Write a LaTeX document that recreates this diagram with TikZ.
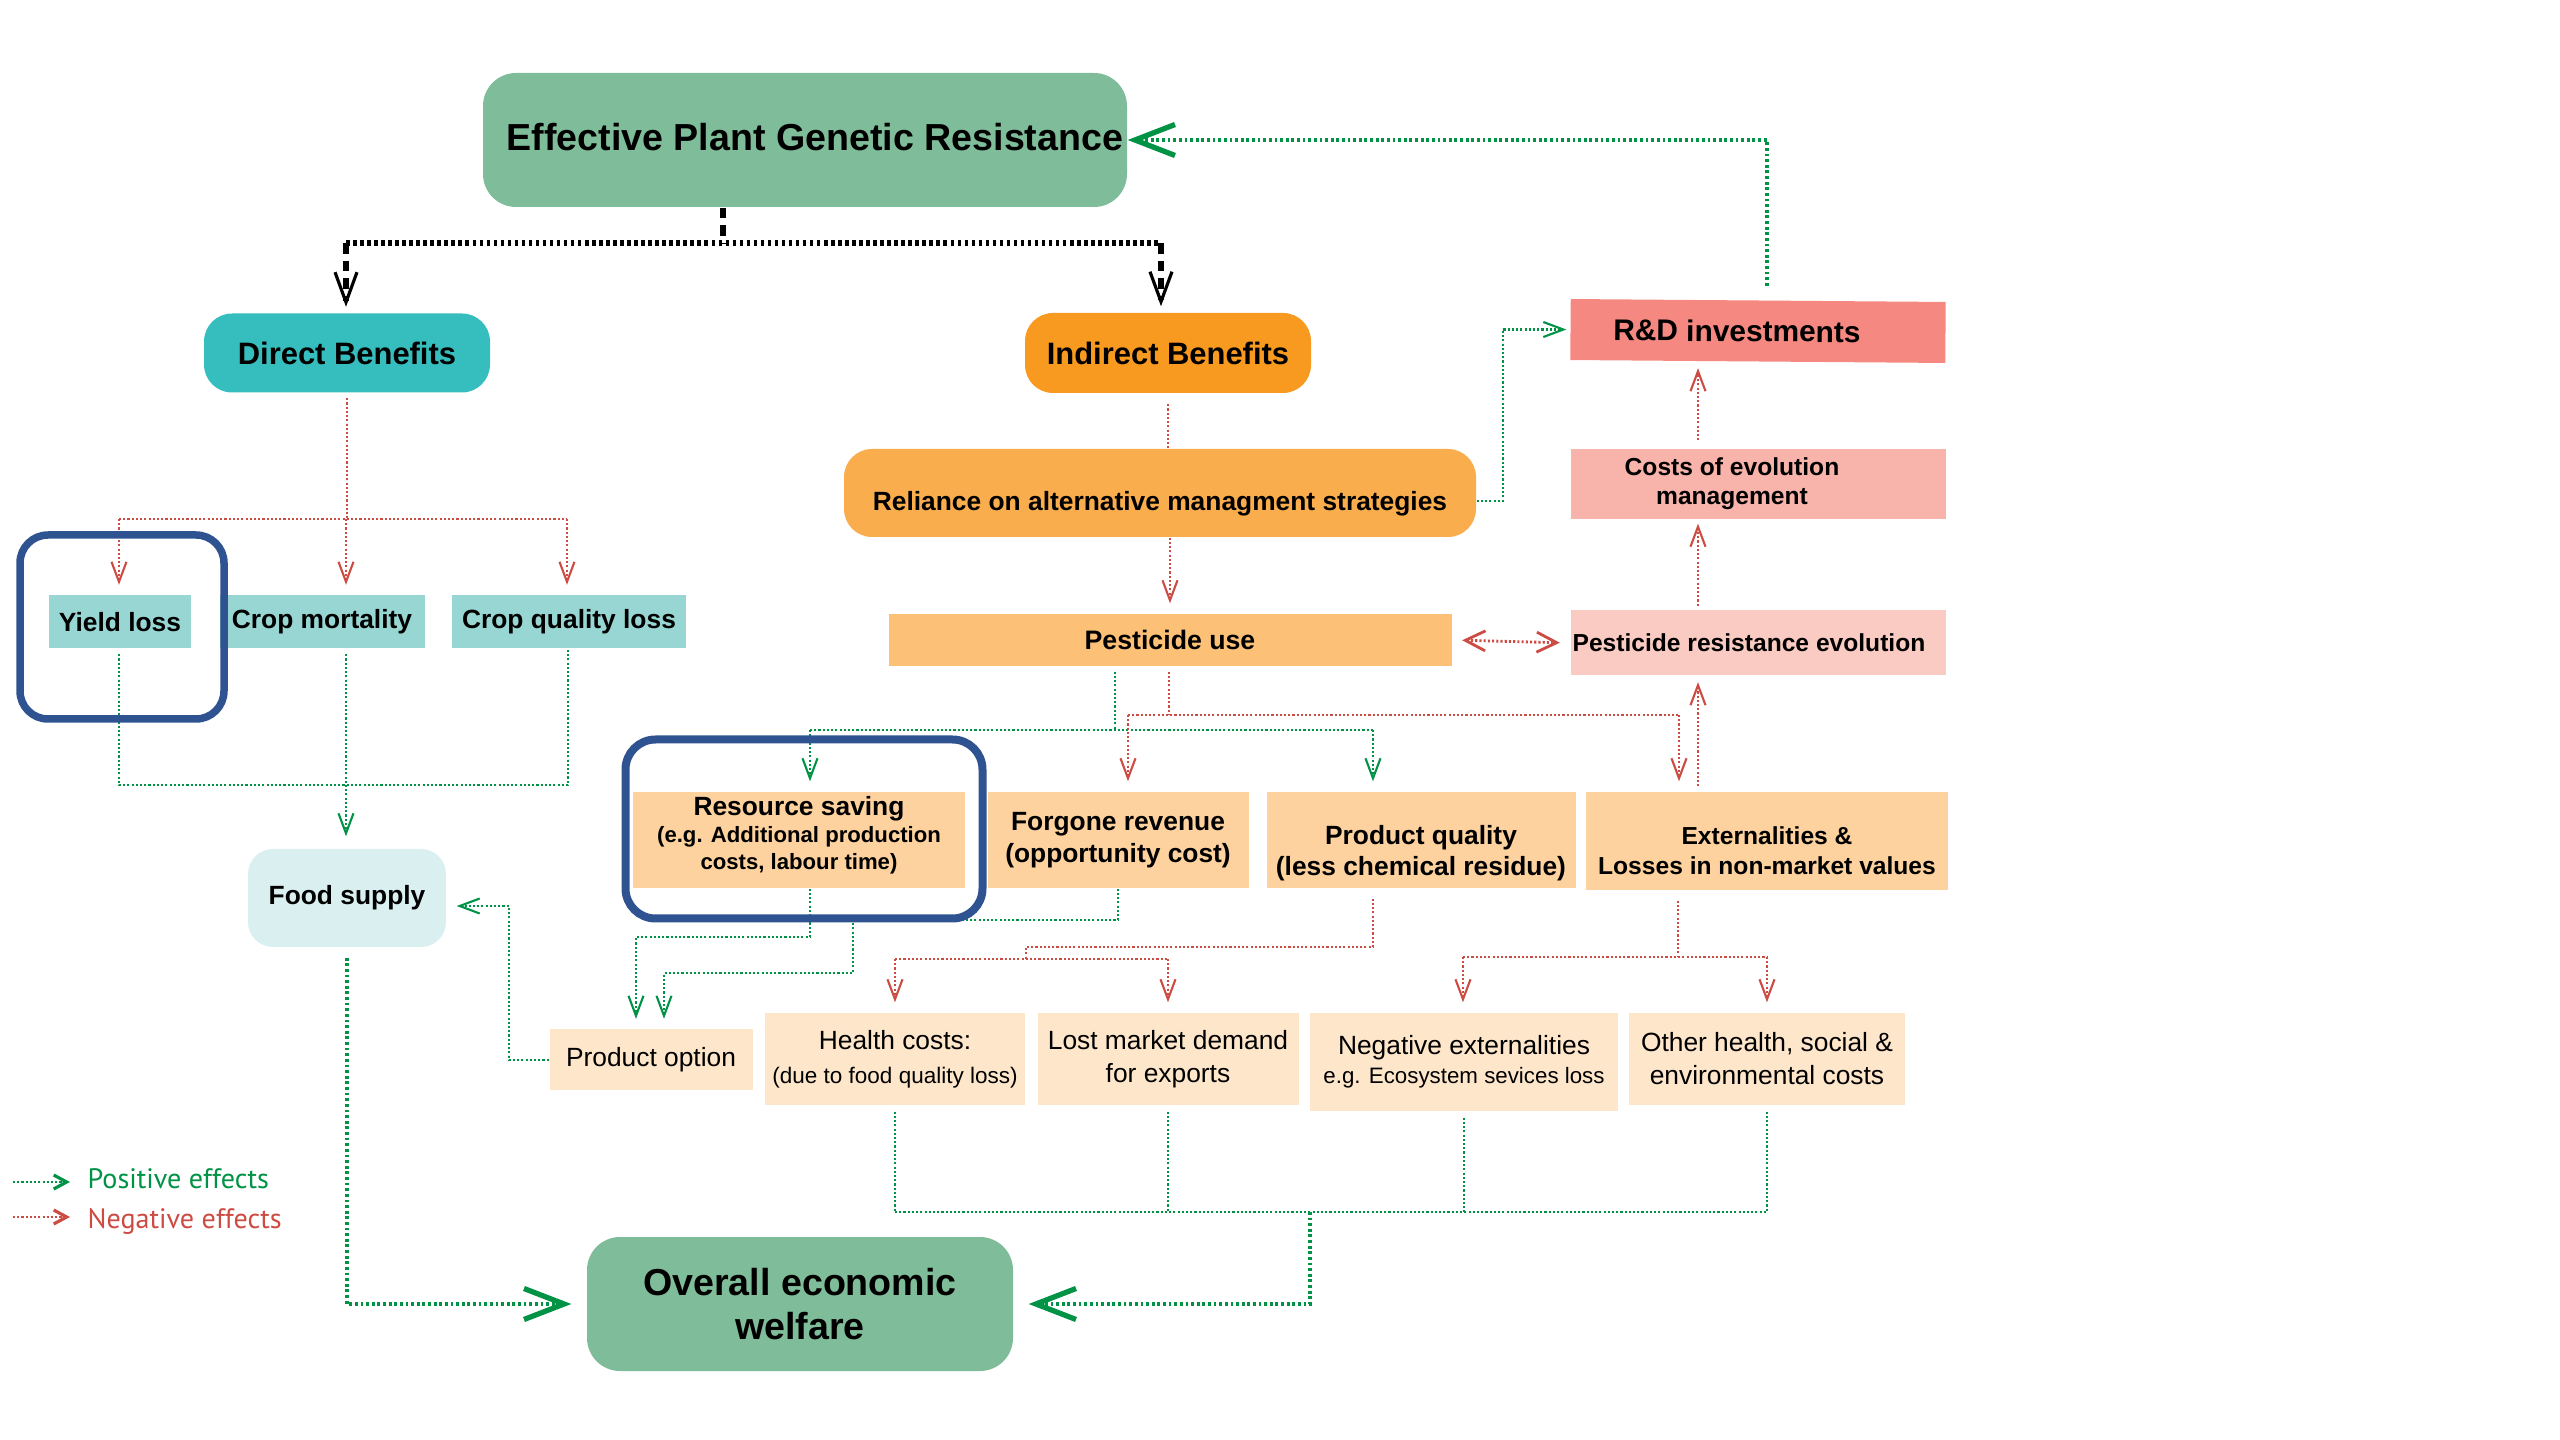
\documentclass[tikz,border=0pt]{standalone}
\usepackage{fontspec}
\setmainfont{Liberation Sans}
\newfontfamily\legendfont{PT Sans}
\usetikzlibrary{arrows.meta}

% palette
\definecolor{posgreen}{RGB}{0,146,69}
\definecolor{negred}{RGB}{204,76,68}
\definecolor{cMain}{RGB}{127,189,154}
\definecolor{cTeal}{RGB}{53,190,189}
\definecolor{cOrange}{RGB}{248,154,31}
\definecolor{cRD}{RGB}{245,136,128}
\definecolor{cCost}{RGB}{248,180,171}
\definecolor{cResist}{RGB}{250,203,195}
\definecolor{cRely}{RGB}{250,173,76}
\definecolor{cPest}{RGB}{252,193,119}
\definecolor{cLoss}{RGB}{151,214,211}
\definecolor{cFood}{RGB}{218,239,239}
\definecolor{cMid}{RGB}{253,210,159}
\definecolor{cLow}{RGB}{254,230,203}
\definecolor{cRing}{RGB}{47,83,144}

\begin{document}
\begin{tikzpicture}[x=0.1mm,y=-0.1mm,
  box/.style={inner sep=0pt, align=center, text=black},
  ttl/.style={font=\fontsize{10.7}{12.5}\selectfont\bfseries},
  hdr/.style={font=\fontsize{8.8}{10.5}\selectfont\bfseries},
  lbl/.style={font=\fontsize{7.5}{9}\selectfont\bfseries},
  lbls/.style={font=\fontsize{7}{8.4}\selectfont\bfseries},
  txt/.style={font=\fontsize{7.5}{9.4}\selectfont},
  ring/.style={draw=cRing, line width=0.75mm, rounded corners=2.8mm, inner sep=0pt},
  poslink/.style={draw=posgreen, line width=0.6pt, dash pattern=on 0.6pt off 0.6pt},
  neglink/.style={draw=negred, line width=0.6pt, dash pattern=on 0.6pt off 0.6pt},
  posthick/.style={draw=posgreen, line width=1.15pt, dash pattern=on 0.8pt off 0.8pt},
  blkh/.style={draw=black, line width=1.7pt, dash pattern=on 1pt off 1pt},
  blkv/.style={draw=black, line width=1.7pt, dash pattern=on 3pt off 2pt},
  tipsm/.style={-{Straight Barb[length=2mm,width=1.5mm]}},
  tipbk/.style={-{Straight Barb[length=3mm,width=2.2mm,line width=0.9pt]}},
  tipbig/.style={-{Straight Barb[length=4mm,width=3.1mm,line width=1.5pt]}},
  tiplg/.style={-{Straight Barb[length=1.3mm,width=1.4mm,line width=0.9pt]}},
]
\useasboundingbox (0,0) rectangle (2560,1440);

% ---------- top level ----------
\node[box, fill=cMain, minimum width=64.4mm, minimum height=13.4mm, rounded corners=3.3mm,
  label={[name=epgrtext, ttl, yshift=0.3mm]center:\hspace*{2mm}Effective Plant Genetic Resistance}]
  (epgr) at (805,140) {};
\node[box, hdr, fill=cTeal, minimum width=28.6mm, minimum height=7.9mm, rounded corners=2.8mm]
  (direct) at (347,353) {Direct Benefits};
\node[box, hdr, fill=cOrange, minimum width=28.6mm, minimum height=8mm, rounded corners=2.8mm]
  (indirect) at (1168,353) {Indirect Benefits};

% ---------- indirect branch ----------
\node[box, font=\fontsize{8.5}{10}\selectfont\bfseries, fill=cRD, minimum width=37.5mm, minimum height=6.1mm, rotate=-0.45]
  (rd) at (1758,331) {R\&D investments\hspace*{4.2mm}};
\node[box, fill=cRely, minimum width=63.2mm, minimum height=8.8mm, rounded corners=2.8mm,
  label={[name=reliancetext, lbl, yshift=-1.1mm]center:Reliance on alternative managment strategies}]
  (reliance) at (1160,493) {};
\node[box, font=\fontsize{7}{8.25}\selectfont\bfseries, fill=cCost, minimum width=37.5mm, minimum height=7mm]
  (costs) at (1758,484) {Costs of evolution\hspace*{5.2mm}\\management\hspace*{5.2mm}};
\node[box, font=\fontsize{7.6}{9}\selectfont\bfseries, fill=cPest, minimum width=56.3mm, minimum height=5.2mm]
  (pest) at (1170,640) {Pesticide use};
\node[box, lbls, fill=cResist, minimum width=37.5mm, minimum height=6.5mm]
  (resist) at (1758,643) {Pesticide resistance evolution\hspace*{1.8mm}};

% ---------- direct branch ----------
\node[box, lbl, fill=cLoss, minimum width=14.2mm, minimum height=5.3mm] (yield) at (120,622) {Yield loss};
\node[box, lbl, fill=cLoss, minimum width=20.5mm, minimum height=5.3mm] (mort) at (322,622) {Crop mortality};
\node[box, lbl, fill=cLoss, minimum width=23.4mm, minimum height=5.3mm] (qual) at (569,622) {Crop quality loss};
\node[box, lbl, fill=cFood, minimum width=19.8mm, minimum height=9.8mm, rounded corners=2.5mm]
  (food) at (347,898) {Food supply};

% ---------- consequences of pesticide use ----------
\node[box, fill=cMid, minimum width=33.2mm, minimum height=9.6mm,
  label={[name=resourcetext, align=center, font=\fontsize{7.5}{7.7}\selectfont\bfseries, yshift=0.5mm]center:Resource saving\\{\fontsize{6.3}{7.6}\selectfont (e.g. Additional production}\\{\fontsize{6.3}{7.6}\selectfont costs, labour time)}}]
  (resource) at (799,840) {};
\node[box, font=\fontsize{7.5}{9.1}\selectfont\bfseries, fill=cMid, minimum width=26.1mm, minimum height=9.6mm]
  (forgone) at (1118,840) {Forgone revenue\\(opportunity cost)};
\node[box, fill=cMid, minimum width=30.9mm, minimum height=9.6mm,
  label={[name=pqualitytext, align=center, font=\fontsize{7.5}{8.8}\selectfont\bfseries, yshift=-1.3mm]center:Product quality\\(less chemical residue)}]
  (pquality) at (1421,840) {};
\node[box, fill=cMid, minimum width=36.2mm, minimum height=9.8mm,
  label={[name=externtext, align=center, font=\fontsize{7}{8.5}\selectfont\bfseries, yshift=-1mm]center:Externalities \&\\Losses in non-market values}]
  (extern) at (1767,841) {};

% ---------- lowest row ----------
\node[box, txt, fill=cLow, minimum width=20.3mm, minimum height=6.1mm] (option) at (651,1060) {Product option};
\node[box, font=\fontsize{7.5}{9.7}\selectfont, fill=cLow, minimum width=26mm, minimum height=9.2mm]
  (health) at (895,1059) {Health costs:\\{\fontsize{6.4}{7.7}\selectfont(due to food quality loss)}};
\node[box, font=\fontsize{7.5}{9.4}\selectfont, fill=cLow, minimum width=26.1mm, minimum height=9.2mm]
  (lost) at (1168,1059) {Lost market demand\\for exports};
\node[box, font=\fontsize{7.5}{8.25}\selectfont, fill=cLow, minimum width=30.8mm, minimum height=9.8mm]
  (negext) at (1464,1062) {Negative externalities\\{\fontsize{6.35}{7.6}\selectfont e.g. Ecosystem sevices loss}};
\node[box, font=\fontsize{7.5}{9.4}\selectfont, fill=cLow, minimum width=27.6mm, minimum height=9.2mm]
  (other) at (1767,1059) {Other health, social \&\\environmental costs};

\node[box, font=\fontsize{10.7}{12.5}\selectfont\bfseries, fill=cMain, minimum width=42.6mm, minimum height=13.4mm, rounded corners=3.3mm]
  (overall) at (800,1304) {Overall economic\\welfare};

% ---------- junction points ----------
\coordinate (bt) at (723,243);
\coordinate (bl) at (346,243);
\coordinate (br) at (1161,243);
\coordinate (rdup) at (1767,0);
\coordinate (rl) at (0,501);
\coordinate (xr) at (1698,0);
\coordinate (gx) at (1115,0);
\coordinate (rx) at (1169,0);
\coordinate (g1) at (810,730);
\coordinate (g2) at (1373,730);
\coordinate (r1) at (1128,715);
\coordinate (r2) at (1679,715);
\coordinate (d0) at (346,519);
\coordinate (d1) at (119,519);
\coordinate (d2) at (567,519);
\coordinate (y0) at (119,785);
\coordinate (y1) at (568,785);
\coordinate (o1) at (636,0);
\coordinate (o2) at (664,0);
\coordinate (q0) at (1373,0);
\coordinate (q1) at (1026,947);
\coordinate (q2) at (895,959);
\coordinate (q3) at (1168,959);
\coordinate (e0) at (1678,0);
\coordinate (e1) at (1463,957);
\coordinate (e2) at (1767,957);
\coordinate (w1) at (895,1212);
\coordinate (w2) at (1767,1212);
\coordinate (w0) at (1310,1212);

% ---------- black split of the resistance benefits ----------
\draw[blkv] (epgr.south -| bt) -- (bt);
\draw[blkh] (bl) -- (br);
\draw[blkv, tipbk, shorten >=0.6mm] (bl) -- (direct.north -| bl);
\draw[blkv, tipbk, shorten >=0.6mm] (br) -- (indirect.north -| br);

% ---------- R&D feedback ----------
\draw[posthick, tipbig, shorten <=4pt] (rd.north -| rdup) |- (epgr.east);
\draw[poslink, tipsm, shorten >=1pt] (reliance.east |- rl) -- ++(26,0) |- (rd.west);

% ---------- indirect chain ----------
\draw[neglink, shorten <=3pt] (indirect.south) -- (indirect.south |- reliance.north);
\draw[neglink, tipsm, shorten >=1mm] (pest.north |- reliance.south) -- (pest.north);
\draw[neglink, line width=0.8pt, {Straight Barb[length=2mm,width=2mm]}-{Straight Barb[length=2mm,width=2mm]}, shorten <=1mm, shorten >=1mm]
  (pest.east) -- (resist.west);
\draw[neglink, tipsm, shorten <=0.4mm, shorten >=0.4mm] (resist.north -| xr) -- (costs.south -| xr);
\draw[neglink, tipsm, shorten <=0.8mm, shorten >=0.6mm] (costs.north -| xr) -- (rd.south -| xr);
\draw[neglink, tipsm, shorten <=0.5mm, shorten >=0.6mm] (extern.north -| xr) -- (resist.south -| xr);

% ---------- effects of pesticide use ----------
\draw[poslink, shorten <=0.5mm] (pest.south -| gx) -- (gx |- g1);
\draw[poslink] (g1) -- (g2);
\draw[poslink, tipsm, shorten >=1mm] (g1) -- (resource.north -| g1);
\draw[poslink, tipsm, shorten >=1mm] (g2) -- (pquality.north -| g2);
\draw[neglink, shorten <=0.5mm] (pest.south -| rx) -- (rx |- r1);
\draw[neglink] (r1) -- (r2);
\draw[neglink, tipsm, shorten >=1mm] (r1) -- (forgone.north -| r1);
\draw[neglink, tipsm, shorten >=1mm] (r2) -- (extern.north -| r2);

% ---------- direct chain ----------
\draw[neglink, shorten <=0.5mm] (direct.south) -- (direct.south |- d0);
\draw[neglink] (d1) -- (d2);
\draw[neglink, tipsm, shorten >=1mm] (d1) -- (yield.north -| d1);
\draw[neglink, tipsm, shorten >=1mm] (d0) -- (mort.north -| d0);
\draw[neglink, tipsm, shorten >=1mm] (d2) -- (qual.north -| d2);
\draw[poslink, shorten <=0.5mm] (yield.south -| y0) -- (y0) -- (y1) -- (qual.south -| y1);
\draw[poslink, tipsm, shorten <=0.5mm, shorten >=1.2mm] (mort.south -| d0) -- (food.north -| d0);
\draw[posthick, tipbig, shorten <=1mm, shorten >=1.5mm] (food.south) |- (overall.west);

% ---------- towards product option ----------
\draw[poslink, tipsm, shorten >=1mm] (forgone.south) |- (853,920) -- (853,973) -| (option.north -| o2);
\draw[poslink, tipsm, shorten >=1mm] (resource.south -| g1) |- (636,937) -- (option.north -| o1);
\draw[poslink, tipsm, shorten >=1mm] (option.west) -- (509,1060) |- ([yshift=-0.8mm]food.east);

% ---------- highlight rings ----------
\node[ring, minimum width=20.4mm, minimum height=18.4mm] (ringyield) at (122,627) {};
\node[ring, line width=0.8mm, rounded corners=3mm, minimum width=35.7mm, minimum height=17.9mm] (ringres) at (804,829) {};

% ---------- quality and externality consequences ----------
\draw[neglink, shorten <=1mm] (pquality.south -| q0) |- (q1) -- (q1 |- q2);
\draw[neglink] (q2) -- (q3);
\draw[neglink, tipsm, shorten >=1mm] (q2) -- (health.north);
\draw[neglink, tipsm, shorten >=1mm] (q3) -- (lost.north);
\draw[neglink, shorten <=1mm] (extern.south -| e0) -- (e0 |- e1);
\draw[neglink] (e1) -- (e2);
\draw[neglink, tipsm, shorten >=1mm] (e1) -- (negext.north -| e1);
\draw[neglink, tipsm, shorten >=1mm] (e2) -- (other.north -| e2);

% ---------- welfare collection ----------
\draw[poslink, shorten <=0.6mm] (health.south) -- (health.south |- w1);
\draw[poslink, shorten <=0.6mm] (lost.south) -- (lost.south |- w1);
\draw[poslink, shorten <=0.6mm] (negext.south) -- (negext.south |- w1);
\draw[poslink, shorten <=0.6mm] (other.south) -- (other.south |- w1);
\draw[poslink] (w1) -- (w2);
\draw[posthick, tipbig, shorten >=1.5mm] (w0) |- (overall.east);

% ---------- legend ----------
\coordinate (lp0) at (13,1182);
\coordinate (lp1) at (70,1182);
\coordinate (ln0) at (13,1217);
\coordinate (ln1) at (70,1217);
\draw[poslink, tiplg] (lp0) -- (lp1);
\draw[neglink, tiplg] (ln0) -- (ln1);
\node[anchor=base west, inner sep=0pt, text=posgreen, font=\legendfont\fontsize{8}{10}\selectfont] (lgpos) at (87,1188) {Positive effects};
\node[anchor=base west, inner sep=0pt, text=negred, font=\legendfont\fontsize{8}{10}\selectfont] (lgneg) at (87,1228) {Negative effects};
\end{tikzpicture}
\end{document}
